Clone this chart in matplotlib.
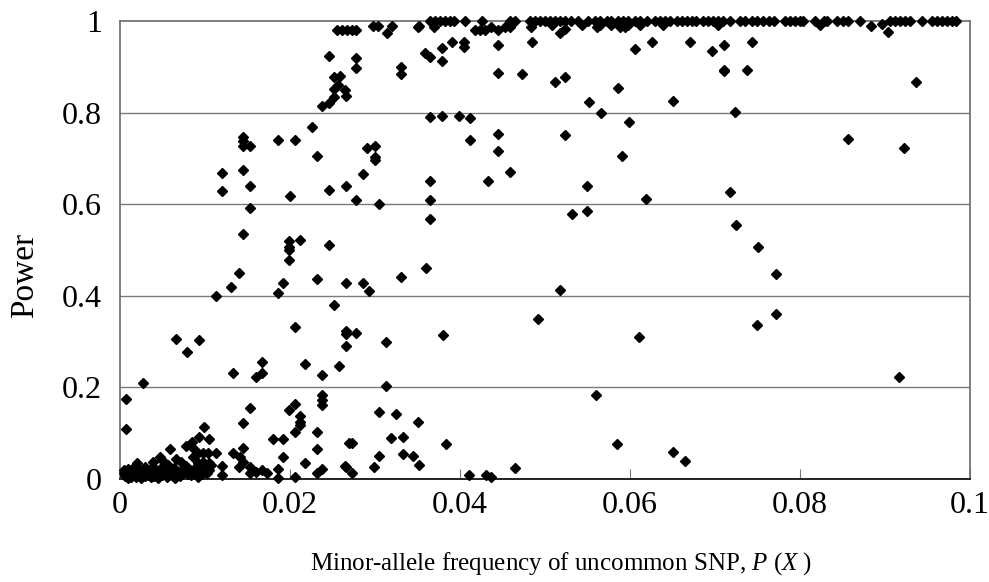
import matplotlib
matplotlib.use("Agg")
import matplotlib.pyplot as plt

plt.rcParams['font.family'] = ['Liberation Serif', 'DejaVu Serif']
plt.rcParams['mathtext.fontset'] = 'custom'
plt.rcParams['mathtext.it'] = 'Liberation Serif:italic'
plt.rcParams['mathtext.rm'] = 'Liberation Serif'

# points sitting at power = 1
top_freq = [0.0365, 0.0371, 0.0376, 0.0382, 0.0388, 0.0393, 0.0406, 0.0426, 0.0459, 0.0465,
            0.0482, 0.0488, 0.0494, 0.0500, 0.0506, 0.0512, 0.0518, 0.0524, 0.0531, 0.0539,
            0.0551, 0.0559, 0.0565, 0.0573, 0.0578, 0.0586, 0.0592, 0.0598, 0.0606, 0.0612,
            0.0620, 0.0629, 0.0635, 0.0641, 0.0647, 0.0655, 0.0661, 0.0667, 0.0673, 0.0678,
            0.0686, 0.0692, 0.0698, 0.0704, 0.0710, 0.0718, 0.0729, 0.0735, 0.0743, 0.0749,
            0.0757, 0.0763, 0.0769, 0.0782, 0.0788, 0.0794, 0.0800, 0.0804, 0.0818, 0.0828,
            0.0832, 0.0843, 0.0851, 0.0857, 0.0871, 0.0906, 0.0912, 0.0918, 0.0924, 0.0929,
            0.0943, 0.0955, 0.0961, 0.0967, 0.0973, 0.0979, 0.0984]

# everything else, (frequency, power)
other_points = [
    # just under 1
    (0.0352, 0.990), (0.0255, 0.980), (0.0261, 0.980), (0.0267, 0.980), (0.0273, 0.980),
    (0.0278, 0.980), (0.0298, 0.990), (0.0304, 0.990), (0.0320, 0.988), (0.0314, 0.973),
    (0.0351, 0.986), (0.0369, 0.986), (0.0418, 0.980), (0.0424, 0.980), (0.0429, 0.980),
    (0.0437, 0.986), (0.0445, 0.980), (0.0453, 0.986), (0.0459, 0.986), (0.0484, 0.986),
    (0.0518, 0.973), (0.0524, 0.982), (0.0561, 0.986), (0.0588, 0.986), (0.0594, 0.986),
    (0.0508, 0.991), (0.0543, 0.991), (0.0565, 0.991), (0.0578, 0.991), (0.0592, 0.991),
    (0.0598, 0.991), (0.0612, 0.991), (0.0639, 0.991), (0.0704, 0.991), (0.0824, 0.991),
    (0.0883, 0.990), (0.0897, 0.993), (0.0903, 0.975),
    # upper part
    (0.0246, 0.924), (0.0252, 0.878), (0.0259, 0.880), (0.0257, 0.860), (0.0252, 0.852),
    (0.0265, 0.849), (0.0266, 0.836), (0.0252, 0.833), (0.0238, 0.815), (0.0246, 0.820),
    (0.0278, 0.919), (0.0278, 0.897), (0.0226, 0.768),
    (0.0145, 0.747), (0.0145, 0.737), (0.0145, 0.726), (0.0153, 0.726),
    (0.0186, 0.740), (0.0206, 0.740), (0.0232, 0.706),
    (0.0120, 0.669), (0.0145, 0.675), (0.0120, 0.629), (0.0153, 0.640), (0.0200, 0.618),
    (0.0246, 0.631), (0.0153, 0.592), (0.0145, 0.535),
    (0.0199, 0.520), (0.0212, 0.522), (0.0199, 0.507), (0.0246, 0.510), (0.0199, 0.500),
    (0.0199, 0.478),
    (0.0331, 0.900), (0.0331, 0.884), (0.0359, 0.931), (0.0365, 0.922), (0.0379, 0.942),
    (0.0379, 0.913), (0.0391, 0.955), (0.0405, 0.953), (0.0405, 0.944), (0.0445, 0.948),
    (0.0445, 0.887), (0.0473, 0.884), (0.0485, 0.955),
    (0.0365, 0.791), (0.0379, 0.793), (0.0399, 0.793), (0.0412, 0.788), (0.0412, 0.740),
    (0.0445, 0.753), (0.0445, 0.717), (0.0459, 0.671), (0.0433, 0.651), (0.0365, 0.651),
    (0.0365, 0.609), (0.0365, 0.567),
    (0.0291, 0.723), (0.0300, 0.726), (0.0300, 0.704), (0.0300, 0.697), (0.0286, 0.666),
    (0.0266, 0.640), (0.0278, 0.609), (0.0305, 0.600),
    (0.0512, 0.867), (0.0524, 0.878), (0.0606, 0.938), (0.0626, 0.955), (0.0671, 0.955),
    (0.0697, 0.935), (0.0711, 0.947), (0.0711, 0.894), (0.0711, 0.890), (0.0738, 0.892),
    (0.0744, 0.955), (0.0586, 0.853), (0.0552, 0.822), (0.0566, 0.799), (0.0651, 0.825),
    (0.0724, 0.802), (0.0599, 0.779), (0.0524, 0.751), (0.0591, 0.705), (0.0550, 0.640),
    (0.0619, 0.611), (0.0718, 0.626), (0.0532, 0.579), (0.0550, 0.586), (0.0725, 0.555),
    (0.0751, 0.507), (0.0936, 0.867), (0.0857, 0.742), (0.0922, 0.722),
    # middle
    (0.0140, 0.450), (0.0131, 0.419), (0.0113, 0.400), (0.0192, 0.427), (0.0186, 0.405),
    (0.0232, 0.436), (0.0252, 0.380),
    (0.0266, 0.427), (0.0286, 0.427), (0.0293, 0.410), (0.0331, 0.440), (0.0360, 0.461),
    (0.0266, 0.324), (0.0266, 0.316), (0.0278, 0.319), (0.0266, 0.291), (0.0313, 0.300),
    (0.0380, 0.314), (0.0492, 0.349), (0.0518, 0.413), (0.0611, 0.311), (0.0750, 0.336),
    (0.0772, 0.447), (0.0772, 0.360),
    (0.0066, 0.306), (0.0093, 0.303), (0.0079, 0.277), (0.0206, 0.331), (0.0218, 0.251),
    (0.0258, 0.247), (0.0238, 0.226), (0.0133, 0.232), (0.0167, 0.255), (0.0167, 0.231),
    (0.0160, 0.222), (0.0027, 0.209), (0.0007, 0.174), (0.0007, 0.110),
    # lower part
    (0.0238, 0.183), (0.0238, 0.172), (0.0238, 0.162), (0.0206, 0.164), (0.0199, 0.151),
    (0.0153, 0.156), (0.0212, 0.138), (0.0212, 0.124), (0.0212, 0.117), (0.0145, 0.123),
    (0.0206, 0.102), (0.0232, 0.102), (0.0180, 0.087), (0.0192, 0.087),
    (0.0313, 0.204), (0.0305, 0.147), (0.0325, 0.142), (0.0351, 0.124), (0.0319, 0.090),
    (0.0333, 0.092), (0.0273, 0.079), (0.0384, 0.076), (0.0305, 0.050), (0.0333, 0.054),
    (0.0345, 0.050), (0.0266, 0.027), (0.0273, 0.014), (0.0299, 0.027), (0.0352, 0.030),
    (0.0411, 0.008), (0.0431, 0.008), (0.0437, 0.005), (0.0465, 0.023),
    (0.0560, 0.183), (0.0585, 0.076), (0.0651, 0.059), (0.0665, 0.039), (0.0916, 0.223),
    (0.0099, 0.113), (0.0093, 0.091), (0.0105, 0.087), (0.0085, 0.081), (0.0078, 0.071),
    (0.0059, 0.066), (0.0047, 0.047), (0.0145, 0.067), (0.0232, 0.065), (0.0192, 0.047),
    (0.0218, 0.034), (0.0238, 0.022), (0.0232, 0.014), (0.0206, 0.004), (0.0186, 0.021),
    (0.0186, 0.002), (0.0120, 0.028), (0.0120, 0.009),
    (0.0133, 0.056), (0.0141, 0.049), (0.0145, 0.038), (0.0140, 0.027), (0.0153, 0.027),
    (0.0153, 0.012), (0.0160, 0.016), (0.0167, 0.020), (0.0173, 0.012),
    (0.0113, 0.056), (0.0105, 0.034), (0.0105, 0.020), (0.0265, 0.028), (0.0270, 0.078),
    (0.0086, 0.067), (0.0092, 0.056), (0.0098, 0.056), (0.0104, 0.056), (0.0066, 0.043),
    (0.0072, 0.036), (0.0086, 0.047), (0.0092, 0.034), (0.0098, 0.038), (0.0107, 0.031),
    (0.0098, 0.023), (0.0094, 0.016), (0.0078, 0.028), (0.0082, 0.020), (0.0084, 0.009),
    (0.0092, 0.005), (0.0020, 0.034), (0.0039, 0.038), (0.0049, 0.041), (0.0029, 0.027),
    (0.0056, 0.031), (0.0064, 0.023),
    (0.0074, 0.013), (0.0076, 0.024), (0.0080, 0.011), (0.0088, 0.014), (0.0090, 0.027),
    (0.0096, 0.010), (0.0102, 0.013),
    # the crowd near the origin
    (0.0005, 0.012), (0.0005, 0.020), (0.0006, 0.006), (0.0008, 0.015), (0.0009, 0.003),
    (0.0010, 0.022), (0.0011, 0.010), (0.0012, 0.017), (0.0013, 0.004), (0.0014, 0.013),
    (0.0015, 0.024), (0.0016, 0.008), (0.0017, 0.018), (0.0018, 0.012), (0.0019, 0.005),
    (0.0021, 0.015), (0.0022, 0.021), (0.0023, 0.009), (0.0024, 0.014), (0.0025, 0.003),
    (0.0026, 0.018), (0.0027, 0.011), (0.0029, 0.016), (0.0030, 0.006), (0.0031, 0.022),
    (0.0032, 0.012), (0.0033, 0.008), (0.0034, 0.019), (0.0035, 0.014), (0.0036, 0.004),
    (0.0037, 0.010), (0.0038, 0.025), (0.0039, 0.016), (0.0040, 0.007), (0.0041, 0.013),
    (0.0042, 0.020), (0.0044, 0.010), (0.0045, 0.003), (0.0046, 0.017), (0.0047, 0.012),
    (0.0048, 0.024), (0.0050, 0.008), (0.0051, 0.015), (0.0053, 0.011), (0.0054, 0.020),
    (0.0055, 0.005), (0.0057, 0.013), (0.0058, 0.009), (0.0060, 0.017), (0.0062, 0.006),
    (0.0063, 0.012), (0.0065, 0.003), (0.0067, 0.010), (0.0069, 0.015), (0.0071, 0.006),
]

x_ticks = [0, 0.02, 0.04, 0.06, 0.08, 0.1]
x_tick_labels = ['0', '0.02', '0.04', '0.06', '0.08', '0.1']
y_ticks = [0, 0.2, 0.4, 0.6, 0.8, 1]
y_tick_labels = ['0', '0.2', '0.4', '0.6', '0.8', '1']

freq = top_freq + [p[0] for p in other_points]
power = [1.0] * len(top_freq) + [p[1] for p in other_points]

fig = plt.figure(figsize=(9.89, 5.82), dpi=100)
ax = fig.add_axes([0.1213, 0.177, 0.8595, 0.787])

for g in y_ticks[1:-1]:
    ax.axhline(g, color='#7a7a7a', lw=1.0, zorder=1)

ax.plot(freq, power, linestyle='none', marker='D', markersize=4.9,
        color='black', zorder=3, clip_on=False)

ax.set_xlim(0, 0.1)
ax.set_ylim(0, 1)
ax.set_xticks(x_ticks)
ax.set_xticklabels(x_tick_labels)
ax.set_yticks(y_ticks)
ax.set_yticklabels(y_tick_labels)
ax.tick_params(axis='x', direction='in', length=7, width=0.8, color='#777777',
               labelsize=23, pad=9)
ax.tick_params(axis='y', length=0, labelsize=23, pad=13)

for side in ['left', 'right', 'top']:
    ax.spines[side].set_color('#6a6a6a')
    ax.spines[side].set_linewidth(1.2)
ax.spines['bottom'].set_color('#222222')
ax.spines['bottom'].set_linewidth(1.4)

ax.set_ylabel('Power', fontsize=24)
ax.yaxis.set_label_coords(-0.094, 0.445)
ax.set_xlabel('Minor-allele frequency of uncommon SNP, $P$ ($X$ )', fontsize=18)
ax.xaxis.set_label_coords(0.519, -0.155)

fig.savefig('out.png', dpi=100)
